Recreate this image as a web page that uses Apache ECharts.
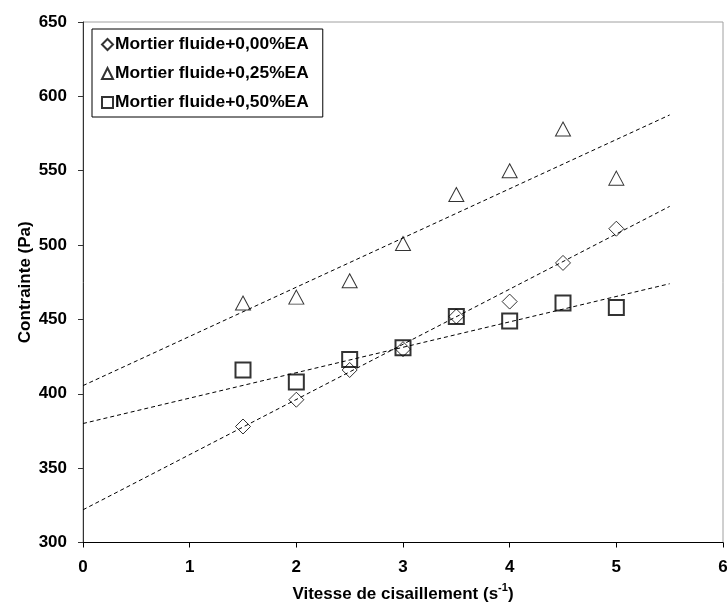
<!DOCTYPE html>
<html>
<head>
<meta charset="utf-8">
<script src="https://cdn.jsdelivr.net/npm/echarts@6/dist/echarts.min.js"></script>
<style>html,body{margin:0;padding:0;background:#fff}#c{width:728px;height:604px}</style>
</head>
<body>
<div id="c"></div>
<script>
// Data
var shearRates = [1.5, 2, 2.5, 3, 3.5, 4, 4.5, 5];
var stress000 = [378, 396, 416, 430, 452, 462, 488, 511];
var stress025 = [461, 465, 476, 501, 534, 550, 578, 545];
var stress050 = [416, 408, 423, 431, 452, 449, 461, 458];
var seriesNames = ['Mortier fluide+0,00%EA', 'Mortier fluide+0,25%EA', 'Mortier fluide+0,50%EA'];
// Trend line endpoints (x = 0 and x = 5.5)
var trendX = [0, 5.5];
var trend000 = [322, 526];
var trend025 = [405.5, 587.5];
var trend050 = [380, 474];
var xTicks = [0, 6, 1];
var yTicks = [300, 650, 50];

function pairs(xs, ys) { return xs.map(function (x, i) { return [x, ys[i]]; }); }

var FONT = 'Liberation Sans';
var FS = 17;
var chart = echarts.init(document.getElementById('c'), null, { renderer: 'canvas' });

function trend(ys) {
  return {
    type: 'line', data: pairs(trendX, ys), symbol: 'none', silent: true, z: 5,
    lineStyle: { color: '#000', width: 1, type: [4, 3] }
  };
}

chart.setOption({
  animation: false,
  backgroundColor: '#fff',
  grid: { left: 83, right: 5, top: 22, bottom: 61.5, show: true, borderColor: '#a0a0a0', borderWidth: 1, backgroundColor: 'transparent', containLabel: false, outerBoundsMode: 'none' },
  legend: {
    orient: 'vertical', left: 92, top: 29,
    data: seriesNames,
    borderColor: '#000', borderWidth: 1, borderRadius: 0,
    padding: [7, 14, 6, 9],
    itemGap: 12, itemWidth: 11, itemHeight: 11,
    textStyle: { fontFamily: FONT, fontWeight: 'bold', fontSize: 17.4, color: '#000', padding: [0, 0, 0, -3] }
  },
  xAxis: {
    type: 'value', min: xTicks[0], max: xTicks[1], interval: xTicks[2],
    name: '{a|Vitesse de cisaillement (s}{b|-1}{a|)}',
    nameLocation: 'middle', nameGap: 40, nameMoveOverlap: false,
    nameTextStyle: {
      rich: {
        a: { fontFamily: FONT, fontWeight: 'bold', fontSize: FS, color: '#000', lineHeight: 20, verticalAlign: 'bottom' },
        b: { fontFamily: FONT, fontWeight: 'bold', fontSize: 11, color: '#000', lineHeight: 20, verticalAlign: 'top' }
      }
    },
    axisLine: { show: true, onZero: false, lineStyle: { color: '#000', width: 1 } },
    axisTick: { show: true, inside: false, length: 5, lineStyle: { color: '#000' } },
    axisLabel: { fontFamily: FONT, fontWeight: 'bold', fontSize: FS, color: '#000', margin: 16 },
    splitLine: { show: false }
  },
  yAxis: {
    type: 'value', min: yTicks[0], max: yTicks[1], interval: yTicks[2],
    name: 'Contrainte (Pa)', nameLocation: 'middle', nameGap: 49, nameMoveOverlap: false,
    nameTextStyle: { fontFamily: FONT, fontWeight: 'bold', fontSize: FS, color: '#000' },
    axisLine: { show: true, onZero: false, lineStyle: { color: '#333', width: 1 } },
    axisTick: { show: true, inside: false, length: 5, lineStyle: { color: '#333' } },
    axisLabel: { fontFamily: FONT, fontWeight: 'bold', fontSize: FS, color: '#000', margin: 16 },
    splitLine: { show: false }
  },
  series: [
    {
      name: seriesNames[0], type: 'scatter', data: pairs(shearRates, stress000),
      symbol: 'diamond', symbolSize: [15, 15], z: 3,
      itemStyle: { color: 'rgba(255,255,255,0)', borderColor: '#000', borderWidth: 1 }
    },
    {
      name: seriesNames[1], type: 'scatter', data: pairs(shearRates, stress025),
      symbol: 'triangle', symbolSize: [15, 14], z: 3,
      itemStyle: { color: 'rgba(255,255,255,0)', borderColor: '#000', borderWidth: 1 }
    },
    {
      name: seriesNames[2], type: 'scatter', data: pairs(shearRates, stress050),
      symbol: 'rect', symbolSize: 15, z: 3,
      itemStyle: { color: 'rgba(255,255,255,0)', borderColor: '#000', borderWidth: 2 }
    },
    trend(trend000),
    trend(trend025),
    trend(trend050)
  ]
});
</script>
</body>
</html>
